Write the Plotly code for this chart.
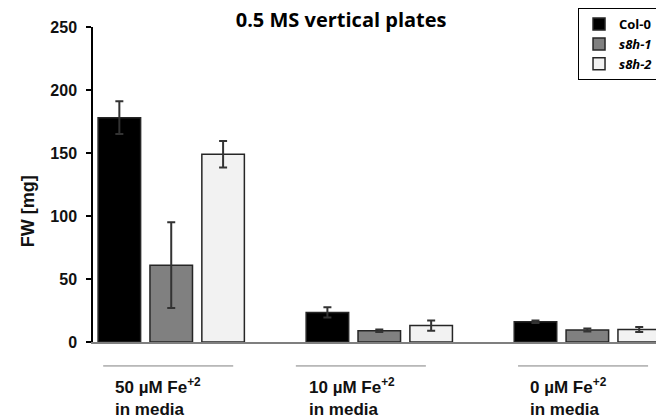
import plotly.graph_objects as go

categories = [0, 1, 2]
cat_labels = ["50 µM Fe<sup>+2</sup><br>in media",
              "10 µM Fe<sup>+2</sup><br>in media",
              "0 µM Fe<sup>+2</sup><br>in media"]
series_names = ["Col-0", "<i>s8h-1</i>", "<i>s8h-2</i>"]
col0 = [178, 23.5, 16]
col0_err = [13, 4, 1]
s8h1 = [61, 9, 9.5]
s8h1_err = [34, 1, 1.2]
s8h2 = [149, 13, 10]
s8h2_err = [10.5, 4, 2]
yticks = [0, 50, 100, 150, 200, 250]

colors = ["#000000", "#808080", "#f2f2f2"]
vals = [col0, s8h1, s8h2]
errs = [col0_err, s8h1_err, s8h2_err]

fig = go.Figure()
for name, v, e, c in zip(series_names, vals, errs, colors):
    fig.add_trace(go.Bar(
        x=categories, y=v, name=name,
        marker=dict(color=c, line=dict(color="#262626", width=1.5)),
        error_y=dict(type="data", array=e, color="#333333", thickness=2, width=4),
    ))

# figure is wider than the 656px window so the legend can run off the right edge
fig.update_layout(
    width=740, height=418,
    margin=dict(l=93, r=84, t=27, b=76, autoexpand=False),
    paper_bgcolor="white", plot_bgcolor="white",
    font=dict(family="Arial", color="#111111"),
    barmode="group", bargap=0.252, bargroupgap=0.18,
    showlegend=True,
    legend=dict(x=0.8615, y=1.06, xanchor="left", yanchor="top",
                bordercolor="black", borderwidth=1, bgcolor="white",
                font=dict(family="Open Sans", size=13, color="black", weight="bold"),
                tracegroupgap=0, itemwidth=30),
    title=dict(text="<b>0.5 MS vertical plates</b>", x=0.461, xanchor="center",
               y=0.952, yanchor="middle",
               font=dict(family="Open Sans", size=20, color="black")),
)
fig.update_xaxes(range=[-0.376, 2.33], showticklabels=False, ticks="",
                 showline=True, linecolor="#7f7f7f", linewidth=2,
                 showgrid=False, zeroline=False, fixedrange=True)
fig.update_yaxes(range=[0, 250], tickvals=yticks, ticks="outside", ticklen=5,
                 tickwidth=1.5, tickcolor="black", showline=True,
                 linecolor="black", linewidth=1.5, showgrid=False,
                 zeroline=False, ticklabelstandoff=6,
                 tickfont=dict(family="Arial", size=16, color="#111111", weight="bold"))

fig.add_annotation(text="<b>FW [mg]</b>", textangle=-90, xref="paper", yref="paper",
                   x=-0.115, y=0.416, xanchor="center", yanchor="middle",
                   showarrow=False,
                   font=dict(family="Arial", size=18, color="#111111"))

text_offsets = [-0.28, -0.347, -0.285]
line_spans = [(-0.327, 0.298), (-0.401, 0.224), (-0.333, 0.292)]
for c, lab, off, (a, b) in zip(categories, cat_labels, text_offsets, line_spans):
    fig.add_annotation(text="<b>" + lab + "</b>", xref="x", yref="paper",
                       x=c + off, y=-0.098, xanchor="left", yanchor="top",
                       align="left", showarrow=False,
                       font=dict(family="Arial", size=17, color="#111111"))
    fig.add_shape(type="line", xref="x", yref="paper", x0=c + a, x1=c + b,
                  y0=-0.076, y1=-0.076, line=dict(color="#808080", width=1))

fig.write_html("out.html", config={"displayModeBar": False},
               post_script="document.body.style.margin='0';")
